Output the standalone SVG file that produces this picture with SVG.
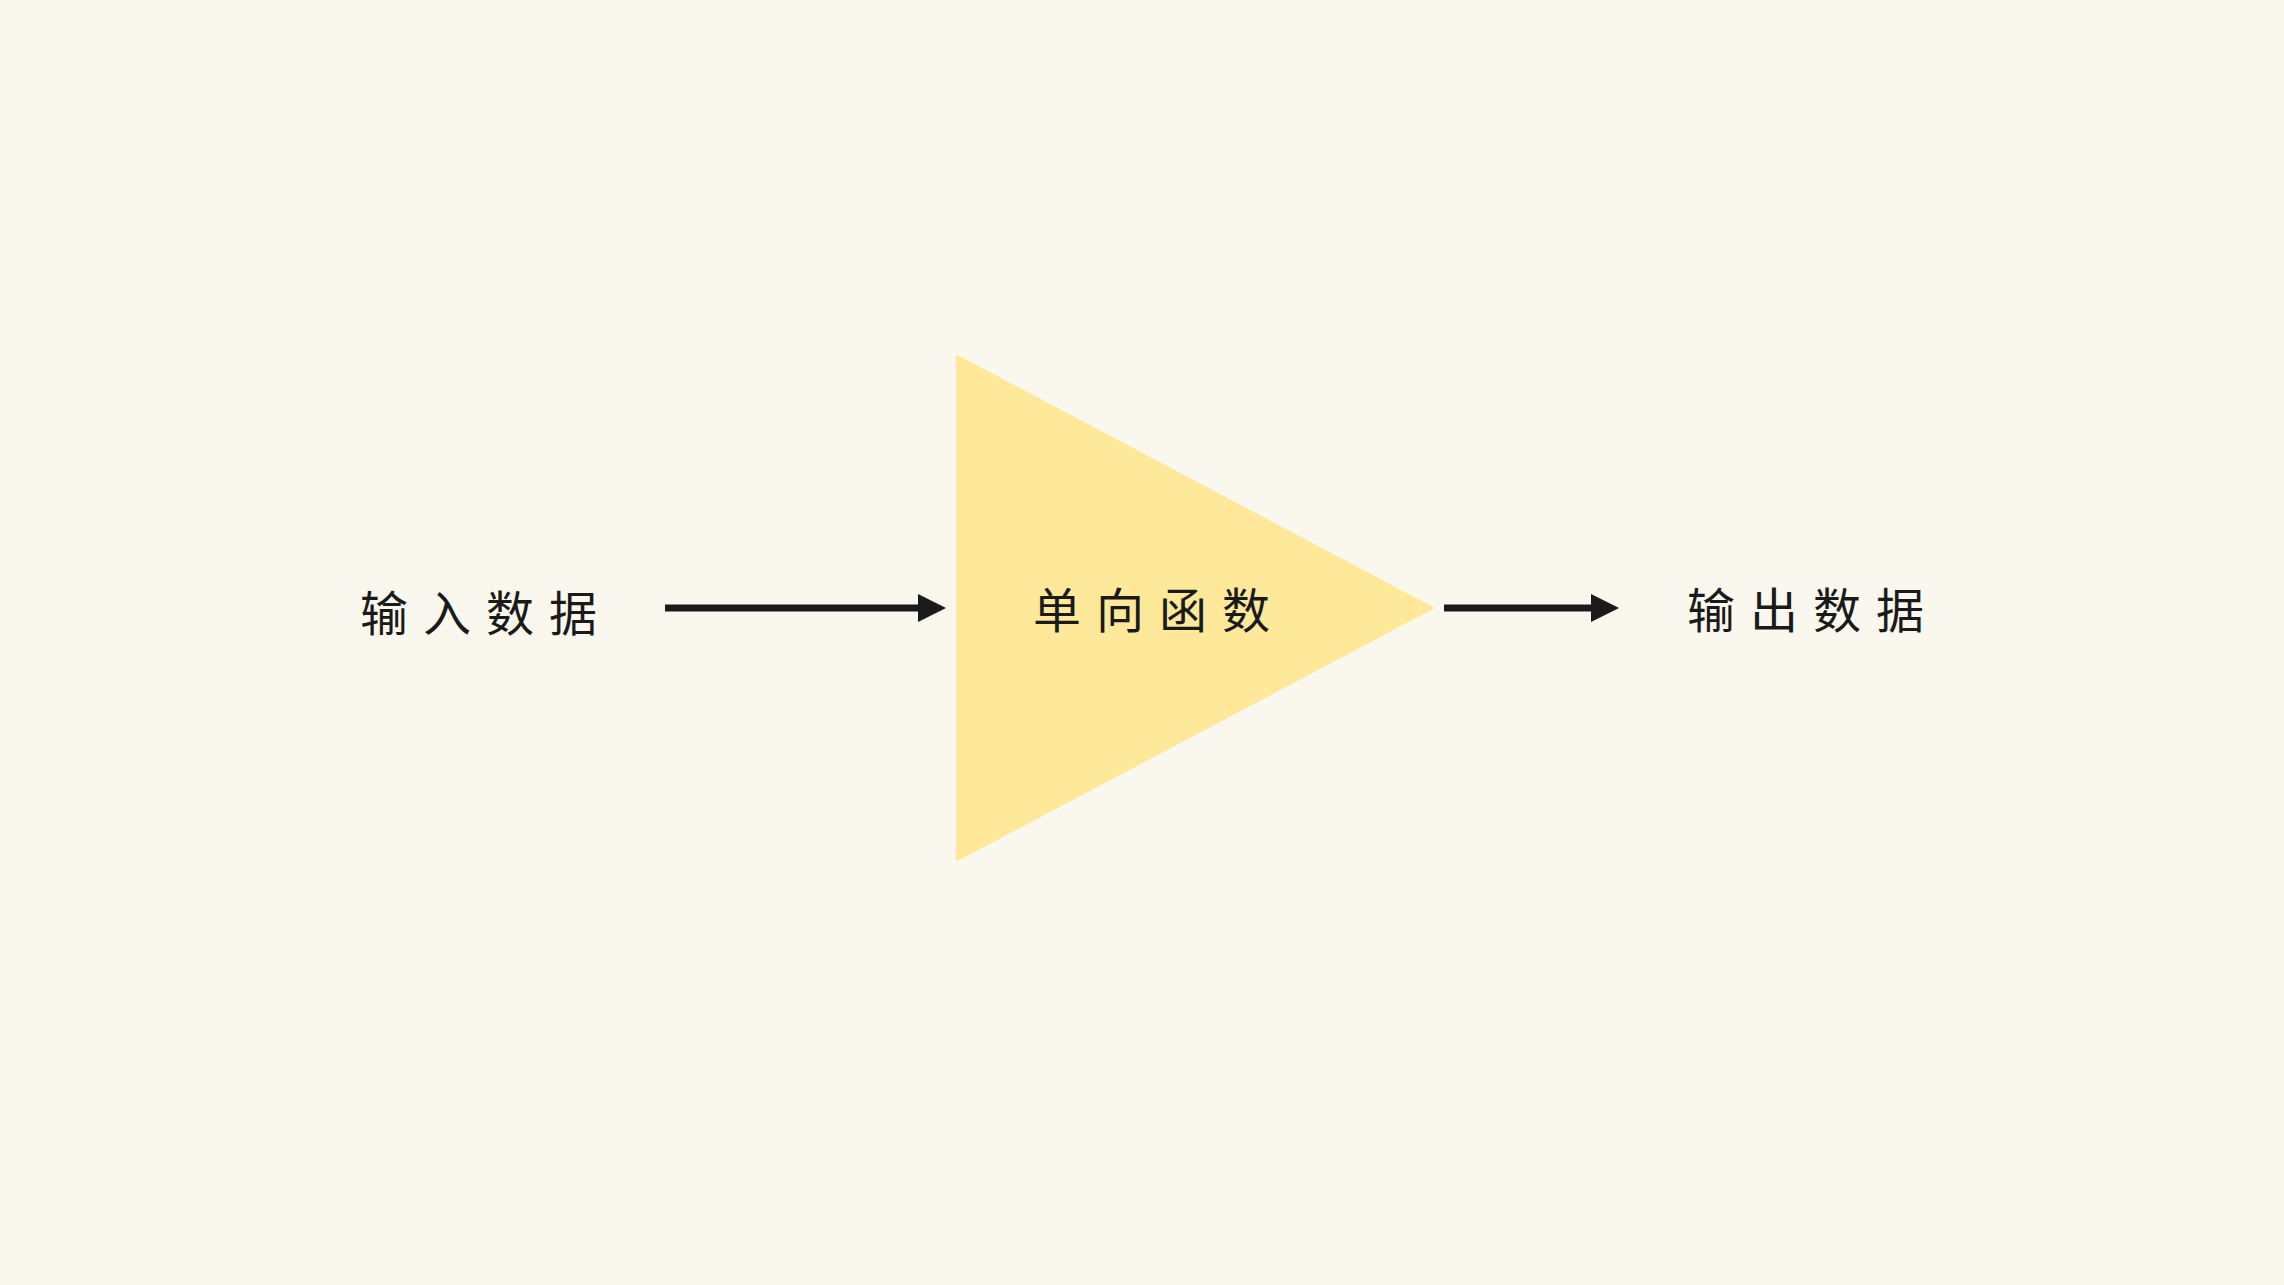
<svg xmlns="http://www.w3.org/2000/svg" width="2284" height="1285" viewBox="0 0 2284 1285">
<style>
.lbl{font-family:"Noto Sans CJK SC","Noto Sans",sans-serif;font-size:48px;fill:#1a1a1a;letter-spacing:15px}
.conn{stroke:#1a1a1a;stroke-width:7;fill:none}
</style>
<defs>
<marker id="ah" markerUnits="userSpaceOnUse" markerWidth="28" markerHeight="28" refX="0" refY="14" orient="auto" viewBox="0 0 28 28">
<path d="M0,0 L28,14 L0,28 Z" fill="#1a1a1a"/>
</marker>
</defs>
<rect width="2284" height="1285" fill="#FAF8EE"/>
<g id="input">
<text class="lbl" x="360" y="631">输入数据</text>
</g>
<g id="function">
<polygon points="956,354 956,862 1435,608" fill="#FEE89A"/>
<text class="lbl" x="1033" y="628">单向函数</text>
</g>
<g id="output">
<text class="lbl" x="1687" y="628">输出数据</text>
</g>
<g id="connectors">
<line class="conn" x1="665" y1="608" x2="918" y2="608" marker-end="url(#ah)"/>
<line class="conn" x1="1444" y1="608" x2="1591" y2="608" marker-end="url(#ah)"/>
</g>
</svg>
